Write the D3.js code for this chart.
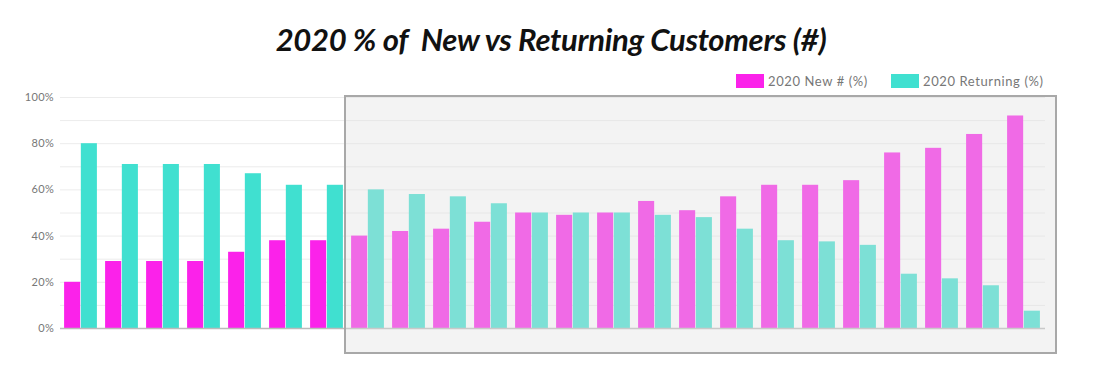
<!DOCTYPE html>
<html><head><meta charset="utf-8">
<script src="https://cdn.jsdelivr.net/npm/d3@7"></script>
<style>body{margin:0;background:#fff;}svg{display:block;}</style>
</head><body>
<svg id="c" width="1103" height="378"></svg>
<script>
const categories = d3.range(1, 25).map(String);
const newPct = [20,29,29,29,33,38,38,40,42,43,46,50,49,50,55,51,57,62,62,64,76,78,84,92];
const returningPct = [80,71,71,71,67,62,62,60,58,57,54,50,50,50,49,48,43,38,37.5,36,23.5,21.5,18.5,7.5];
const seriesNames = ["2020 New # (%)", "2020 Returning (%)"];
const yTicks = [0,20,40,60,80,100];
const gridTicks = d3.range(0, 101, 10);
const colors = ["#fb22ea", "#40e0d0"];

const svg = d3.select("#c");
const x0 = d3.scaleBand().domain(categories).range([60, 1044]).paddingInner(0.2).paddingOuter(0.1);
const x1 = d3.scaleBand().domain([0,1]).range([0, x0.bandwidth()]).paddingInner(0.04);
const y = d3.scaleLinear().domain([0,100]).range([328, 97]);

svg.append("text").attr("x", 551).attr("y", 51).attr("text-anchor","middle")
  .style("font-family","Lato").style("font-weight","bold").style("font-style","italic")
  .style("font-size","31px").style("letter-spacing","-0.3px").attr("fill","#111")
  .text("2020 % of \u00a0New vs Returning Customers (#)");

svg.append("g").selectAll("line").data(gridTicks.filter(d=>d>0)).join("line")
  .attr("x1",60).attr("x2",1045).attr("y1",d=>y(d)+0.5).attr("y2",d=>y(d)+0.5)
  .attr("stroke","#ececec").attr("stroke-width",1);

const yAxis = d3.axisLeft(y).tickValues(yTicks).tickFormat(d=>d+"%").tickSize(0).tickPadding(4);
const ga = svg.append("g").attr("transform","translate(58,0)").call(yAxis);
ga.select(".domain").remove();
ga.selectAll("text").style("font-family","Lato").style("font-size","11px").style("letter-spacing","0.3px").attr("fill","#777");

const groups = svg.append("g").selectAll("g").data(categories).join("g")
  .attr("transform", d=>`translate(${x0(d)},0)`);
groups.selectAll("rect").data((d,i)=>[newPct[i], returningPct[i]]).join("rect")
  .attr("x",(d,j)=>x1(j)).attr("width",x1.bandwidth())
  .attr("y",d=>y(d)).attr("height",d=>y(0)-y(d)).attr("fill",(d,j)=>colors[j]);

svg.append("line").attr("x1",60).attr("x2",1045).attr("y1",328.5).attr("y2",328.5)
  .attr("stroke","#bbb").attr("stroke-width",1.5);

// highlight overlay
svg.append("rect").attr("x",345).attr("y",96).attr("width",711).attr("height",257)
  .attr("fill","rgb(223,223,223)").attr("fill-opacity",0.385)
  .attr("stroke","#a8a8a8").attr("stroke-width",2);

// legend
const leg = svg.append("g");
const legX = [736, 891];
seriesNames.forEach((n,i)=>{
  leg.append("rect").attr("x",legX[i]).attr("y",74).attr("width",28).attr("height",14).attr("fill",colors[i]);
  leg.append("text").attr("x",legX[i]+32).attr("y",86).style("font-family","Lato").style("font-size","13px")
    .style("letter-spacing","0.6px").attr("fill","#777").text(n);
});
</script>
</body></html>
